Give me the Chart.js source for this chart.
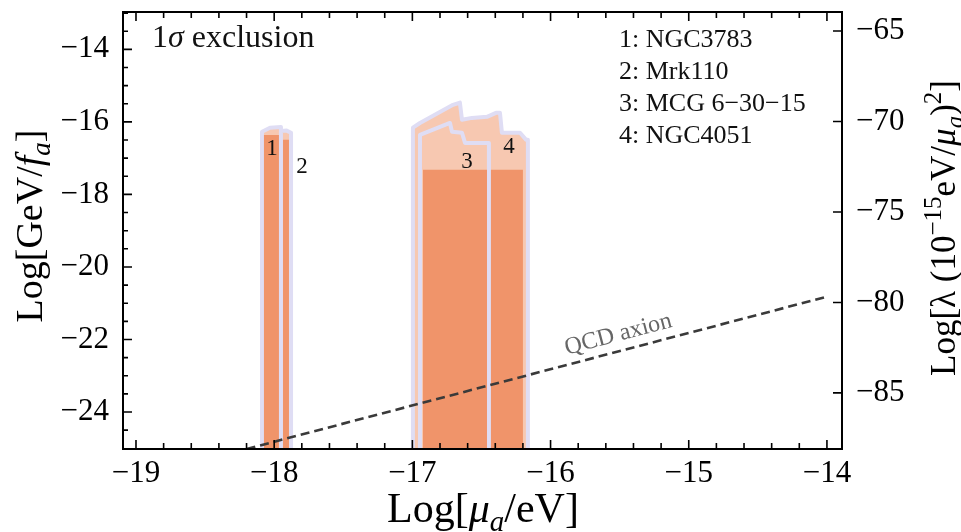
<!DOCTYPE html>
<html>
<head>
<meta charset="utf-8">
<script src="https://cdn.jsdelivr.net/npm/chart.js@4.4.1/dist/chart.umd.min.js"></script>
<style>
  html, body { margin: 0; padding: 0; background: #fff; }
  #wrap { width: 961px; height: 532px; }
</style>
</head>
<body>
<div id="wrap"><canvas id="c" width="961" height="532"></canvas></div>
<script>
// Axis ticks
const xTicks = [-19, -18, -17, -16, -15, -14];
const yTicksLeft = [-24, -22, -20, -18, -16, -14];
const yTicksRight = [-85, -80, -75, -70, -65];

// Sources
const sourceNames = ['1: NGC3783', '2: Mrk110', '3: MCG 6\u221230\u221215', '4: NGC4051'];

// Exclusion boundaries, [log10(mu_a/eV), log10(GeV/f_a)]
const floorY = -26;
const ngc4051Light = [[-16.996, floorY], [-16.996, -16.16], [-16.945, -16.03], [-16.706, -15.53], [-16.656, -15.47],
  [-16.641, -15.94], [-16.569, -15.89], [-16.46, -15.86], [-16.395, -15.75], [-16.366, -15.75], [-16.352, -16.30],
  [-16.221, -16.30], [-16.178, -16.49], [-16.164, -16.49], [-16.164, floorY], [-16.996, floorY]];
const ngc4051Dark = [[-16.945, floorY], [-16.945, -17.32], [-16.200, -17.32], [-16.200, floorY], [-16.945, floorY]];
const mcgLight = [[-16.945, floorY], [-16.945, -16.36], [-16.728, -16.03], [-16.713, -16.27], [-16.641, -16.30],
  [-16.619, -16.58], [-16.446, -16.58], [-16.446, floorY], [-16.945, floorY]];
const mcgDark = [[-16.923, floorY], [-16.923, -17.32], [-16.460, -17.32], [-16.460, floorY], [-16.923, floorY]];
const ngc3783Light = [[-18.088, floorY], [-18.088, -16.27], [-18.03, -16.16], [-17.951, -16.14], [-17.951, floorY], [-18.088, floorY]];
const ngc3783Dark = [[-18.074, floorY], [-18.074, -16.36], [-17.958, -16.36], [-17.958, floorY], [-18.074, floorY]];
const mrk110Light = [[-17.951, floorY], [-17.951, -16.25], [-17.91, -16.24], [-17.878, -16.30], [-17.878, floorY], [-17.951, floorY]];
const mrk110Dark = [[-17.936, floorY], [-17.936, -16.49], [-17.893, -16.49], [-17.893, floorY], [-17.936, floorY]];

// QCD axion line, log10(GeV/f_a) = log10(mu_a/eV) + const
const qcdX = [-18.2, -14.0];
const qcdY = [-25.02, -20.82];

const LIGHT = '#f7c8b1';
const DARK = '#f0946a';
const EDGE = '#dfddf4';
const SERIF = '"Liberation Serif", "DejaVu Serif", serif';

const pts = arr => arr.map(([x, y]) => ({ x, y }));

function region(data, fillColor, edge) {
  return {
    data: pts(data),
    borderColor: edge ? EDGE : 'rgba(0,0,0,0)',
    borderWidth: edge ? 4 : 0,
    backgroundColor: fillColor,
    fill: 'shape',
    pointRadius: 0,
    tension: 0,
    borderJoinStyle: 'round',
    clip: 0
  };
}

const layers = [
  region(ngc4051Light, LIGHT, true),
  region(ngc4051Dark, DARK, false),
  region(mcgLight, LIGHT, true),
  region(mcgDark, DARK, false),
  region(ngc3783Light, LIGHT, true),
  region(ngc3783Dark, DARK, false),
  region(mrk110Light, LIGHT, true),
  region(mrk110Dark, DARK, false),
  {
    data: qcdX.map((x, i) => ({ x, y: qcdY[i] })),
    borderColor: '#3a3a3a',
    borderWidth: 2.6,
    borderDash: [9, 5],
    fill: false,
    pointRadius: 0,
    clip: 0
  }
];
// first layer at the bottom
layers.forEach((d, i) => { d.order = layers.length - i; });

const minus = v => (v < 0 ? '\u2212' + Math.abs(v) : String(v));

function fontOf(p, size) {
  return (p.it ? 'italic ' : '') + Math.round(size * (p.s || 1)) + 'px ' + SERIF;
}

function richText(ctx, parts, x, y, angle, size, align) {
  ctx.save();
  ctx.translate(x, y);
  ctx.rotate(angle);
  ctx.textBaseline = 'alphabetic';
  ctx.textAlign = 'left';
  let w = 0;
  const widths = parts.map(p => { ctx.font = fontOf(p, size); const pw = ctx.measureText(p.t).width; w += pw; return pw; });
  let cx = align === 'left' ? 0 : -w / 2;
  parts.forEach((p, i) => {
    ctx.font = fontOf(p, size);
    ctx.fillText(p.t, cx, (p.dy || 0) * size);
    cx += widths[i];
  });
  ctx.restore();
}

const frameAndText = {
  id: 'frameAndText',
  afterDatasetsDraw(chart) {
    const { ctx, chartArea: a, scales } = chart;
    const x = scales.x, y = scales.y, y2 = scales.y2;
    ctx.save();
    ctx.strokeStyle = '#000';
    ctx.lineCap = 'butt';

    // ticks pointing into the frame
    ctx.lineWidth = 1.6;
    ctx.beginPath();
    for (let i = -100; i <= -65; i++) {
      const v = i / 5;
      const px = x.getPixelForValue(v);
      if (px < a.left + 1 || px > a.right - 1) continue;
      const len = (i % 5 === 0) ? 9 : 6;
      ctx.moveTo(px, a.bottom); ctx.lineTo(px, a.bottom - len);
      ctx.moveTo(px, a.top); ctx.lineTo(px, a.top + len);
    }
    for (let i = -52; i <= -24; i++) {
      const v = i / 2;
      const py = y.getPixelForValue(v);
      if (py < a.top + 1 || py > a.bottom - 1) continue;
      const len = (i % 4 === 0) ? 9 : 5;
      ctx.moveTo(a.left, py); ctx.lineTo(a.left + len, py);
    }
    yTicksRight.forEach(v => {
      const py = y2.getPixelForValue(v);
      ctx.moveTo(a.right, py); ctx.lineTo(a.right - 9, py);
    });
    ctx.stroke();

    // frame
    ctx.lineWidth = 2;
    ctx.strokeRect(a.left, a.top, a.right - a.left, a.bottom - a.top);
    ctx.restore();

    // in-plot labels
    ctx.save();
    ctx.fillStyle = '#111';
    richText(ctx, [{ t: '1' }, { t: '\u03c3', it: true }, { t: ' exclusion' }], 152, 47, 0, 32, 'left');
    sourceNames.forEach((name, i) => {
      richText(ctx, [{ t: name }], 619, 47 + i * 32, 0, 26, 'left');
    });

    const tags = [['1', -18.016, -16.91], ['2', -17.799, -17.40], ['3', -16.605, -17.27], ['4', -16.301, -16.85]];
    ctx.font = '23px ' + SERIF;
    ctx.textAlign = 'center';
    ctx.textBaseline = 'alphabetic';
    tags.forEach(([t, vx, vy]) => ctx.fillText(t, x.getPixelForValue(vx), y.getPixelForValue(vy)));

    // label along the QCD axion line
    const x0 = x.getPixelForValue(qcdX[0]), y0 = y.getPixelForValue(qcdY[0]);
    const x1 = x.getPixelForValue(qcdX[1]), y1 = y.getPixelForValue(qcdY[1]);
    const ang = Math.atan2(y1 - y0, x1 - x0);
    const lx = x.getPixelForValue(-15.48);
    const ly = y0 + (y1 - y0) * (lx - x0) / (x1 - x0);
    ctx.fillStyle = '#666';
    richText(ctx, [{ t: 'QCD axion' }], lx + 10 * Math.sin(ang), ly - 10 * Math.cos(ang), ang, 24, 'center');
    ctx.restore();

    // axis titles
    ctx.save();
    ctx.fillStyle = '#000';
    richText(ctx, [{ t: 'Log[GeV/' }, { t: 'f', it: true }, { t: 'a', it: true, s: 0.7, dy: 0.22 }, { t: ']' }],
      42, 226, -Math.PI / 2, 38);
    richText(ctx, [{ t: 'Log[' }, { t: '\u03bc', it: true }, { t: 'a', it: true, s: 0.7, dy: 0.22 }, { t: '/eV]' }],
      483, 522, 0, 42);
    richText(ctx, [{ t: 'Log[\u03bb (10' }, { t: '\u221215', s: 0.7, dy: -0.4 }, { t: 'eV/' }, { t: '\u03bc', it: true },
      { t: 'a', it: true, s: 0.7, dy: 0.22 }, { t: ')' }, { t: '2', s: 0.7, dy: -0.4 }, { t: ']' }],
      955, 228, -Math.PI / 2, 35);
    ctx.restore();
  }
};

const tickFont = { family: SERIF, size: 31 };

new Chart(document.getElementById('c'), {
  type: 'line',
  data: { datasets: layers },
  options: {
    responsive: false,
    animation: false,
    devicePixelRatio: 1,
    layout: { padding: { top: 12, left: 0, right: 0, bottom: 0 } },
    plugins: { legend: { display: false }, tooltip: { enabled: false } },
    scales: {
      x: {
        type: 'linear', position: 'bottom', min: -19.094, max: -13.891,
        grid: { display: false }, border: { display: false },
        ticks: { font: tickFont, color: '#000', padding: -2, maxRotation: 0, autoSkip: false, callback: minus },
        afterBuildTicks: s => { s.ticks = xTicks.map(v => ({ value: v })); },
        afterFit: s => { s.height = 83; s.paddingLeft = 0; s.paddingRight = 0; }
      },
      y: {
        type: 'linear', position: 'left', min: -25.02, max: -12.97,
        grid: { display: false }, border: { display: false },
        ticks: { font: tickFont, color: '#000', padding: 6, autoSkip: false, callback: minus },
        afterBuildTicks: s => { s.ticks = yTicksLeft.map(v => ({ value: v })); },
        afterFit: s => { s.width = 123; s.paddingTop = 0; s.paddingBottom = 0; }
      },
      y2: {
        type: 'linear', position: 'right', min: -88.1, max: -63.95,
        grid: { display: false }, border: { display: false },
        ticks: { font: tickFont, color: '#000', padding: 6, autoSkip: false, callback: minus },
        afterBuildTicks: s => { s.ticks = yTicksRight.map(v => ({ value: v })); },
        afterFit: s => { s.width = 119; s.paddingTop = 0; s.paddingBottom = 0; }
      }
    }
  },
  plugins: [frameAndText]
});
</script>
</body>
</html>
